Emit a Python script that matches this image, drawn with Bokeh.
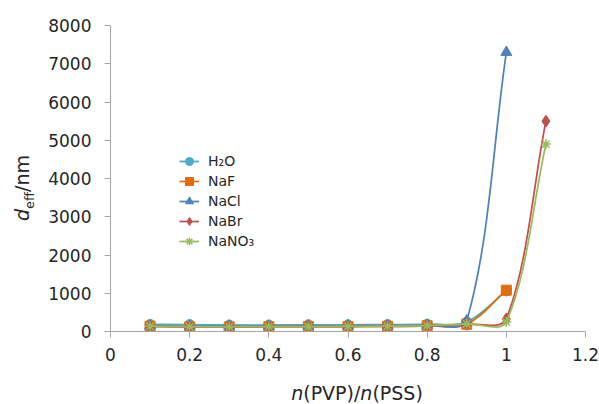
import numpy as np
from bokeh.plotting import figure
from bokeh.layouts import row, column
from bokeh.models import Range1d, FixedTicker, Legend, LegendItem, CustomJSTickFormatter, Div
from bokeh.embed import file_html
from bokeh.resources import INLINE

# ---- data ----
x_h2o = [0.1, 0.2, 0.3, 0.4, 0.5, 0.6, 0.7, 0.8, 0.9, 1.0]
y_h2o = [185, 180, 170, 170, 175, 175, 180, 190, 250, 1060]
x_naf = [0.1, 0.2, 0.3, 0.4, 0.5, 0.6, 0.7, 0.8, 0.9, 1.0]
y_naf = [140, 120, 120, 125, 130, 130, 135, 150, 190, 1080]
x_nacl = [0.1, 0.2, 0.3, 0.4, 0.5, 0.6, 0.7, 0.8, 0.9, 1.0]
y_nacl = [150, 140, 140, 140, 145, 150, 155, 165, 280, 7300]
x_nabr = [0.1, 0.2, 0.3, 0.4, 0.5, 0.6, 0.7, 0.8, 0.9, 1.0, 1.1]
y_nabr = [130, 120, 120, 125, 130, 130, 135, 150, 190, 330, 5500]
x_nano3 = [0.1, 0.2, 0.3, 0.4, 0.5, 0.6, 0.7, 0.8, 0.9, 1.0, 1.1]
y_nano3 = [140, 125, 125, 130, 130, 135, 140, 155, 200, 250, 4900]

names = ["H\u2082O", "NaF", "NaCl", "NaBr", "NaNO\u2083"]
xs_all = [x_h2o, x_naf, x_nacl, x_nabr, x_nano3]
ys_all = [y_h2o, y_naf, y_nacl, y_nabr, y_nano3]
colors = ["#4BACC6", "#E46C0A", "#4F81BD", "#C0504D", "#9BBB59"]
markers = ["circle", "square", "triangle", "diamond", "asterisk"]
msizes = [10, 10, 11, 12, 10]

x_ticks = [0, 0.2, 0.4, 0.6, 0.8, 1.0, 1.2]
y_ticks = [0, 1000, 2000, 3000, 4000, 5000, 6000, 7000, 8000]

x_title_html = "<i>n</i>(PVP)/<i>n</i>(PSS)"
y_title_html = "<i>d</i><sub style='font-size:13px'>eff</sub>/nm"

# ---- layout ----
PAGE_W, PAGE_H = 599, 404
YT_W = 40            # width of the y-title strip
XT_H = 32            # height of the x-title strip
FL, FT, FR, FBOT = 110, 25, 585, 331   # frame edges in page pixels
W, H = PAGE_W - YT_W, PAGE_H - XT_H
BL, BT, BR, BB = FL - YT_W, FT, PAGE_W - FR, H - FBOT
FW, FH = FR - FL, FBOT - FT
X0, X1, Y0, Y1 = 0, 1.2, 0, 8000
sx = FW / (X1 - X0)
sy = FH / (Y1 - Y0)

p = figure(width=W, height=H, output_backend="svg", toolbar_location=None,
           x_range=Range1d(X0, X1), y_range=Range1d(Y0, Y1),
           min_border_left=BL, min_border_right=BR, min_border_top=BT, min_border_bottom=BB,
           margin=0)
p.outline_line_color = None
p.grid.visible = False
p.background_fill_color = "white"
p.border_fill_color = "white"

FONT = "DejaVu Sans"
for ax in (p.xaxis[0], p.yaxis[0]):
    ax.axis_line_color = "#A6A6A6"
    ax.major_tick_line_color = "#A6A6A6"
    ax.minor_tick_line_color = None
    ax.major_tick_in = 0
    ax.major_tick_out = 6
    ax.major_label_text_font = FONT
    ax.major_label_text_font_size = "17px"
    ax.major_label_text_color = "#262626"
p.xaxis[0].ticker = FixedTicker(ticks=x_ticks)
p.xaxis[0].formatter = CustomJSTickFormatter(code="return String(Math.round(tick*10)/10);")
p.xaxis[0].major_label_standoff = 10
p.yaxis[0].ticker = FixedTicker(ticks=y_ticks)
p.yaxis[0].major_label_standoff = 13


def bezier_controls(xv, yv):
    P = np.column_stack([np.asarray(xv, float) * sx, np.asarray(yv, float) * sy])
    n = len(P)
    cin, cout = np.zeros_like(P), np.zeros_like(P)
    for i in range(n):
        a, b = max(i - 1, 0), min(i + 1, n - 1)
        T = P[b] - P[a]
        dp = np.linalg.norm(P[i] - P[a])
        dn = np.linalg.norm(P[b] - P[i])
        tot = dp + dn if dp + dn > 0 else 1
        cout[i] = P[i] + T * (dn / tot) / 3
        cin[i] = P[i] - T * (dp / tot) / 3
    return dict(x0=P[:-1, 0] / sx, y0=P[:-1, 1] / sy, x1=P[1:, 0] / sx, y1=P[1:, 1] / sy,
                cx0=cout[:-1, 0] / sx, cy0=cout[:-1, 1] / sy,
                cx1=cin[1:, 0] / sx, cy1=cin[1:, 1] / sy)


items = []
for name, xv, yv, c, m, s in zip(names, xs_all, ys_all, colors, markers, msizes):
    seg = bezier_controls(xv, yv)
    br = p.bezier(line_color=c, line_width=1.75, **seg)
    sr = p.scatter(xv, yv, marker=m, size=s, fill_color=c, line_color=c,
                   line_width=1.5 if m == "asterisk" else 1)
    items.append(LegendItem(label=name, renderers=[br, sr]))

leg = Legend(items=items, location=(179 - FL, FBOT - 251), orientation="vertical",
             border_line_color=None, background_fill_alpha=0,
             glyph_width=20, glyph_height=20, label_height=20, label_standoff=9,
             spacing=0, padding=0, margin=0,
             label_text_font=FONT, label_text_font_size="14px", label_text_color="#262626")
p.add_layout(leg, "center")

# ---- axis titles as HTML (italic n / d, subscript eff) ----
x_title = Div(width=PAGE_W, height=XT_H, margin=0,
              text=("<div style=\"width:%dpx; text-align:center; padding-left:%dpx; "
                    "box-sizing:border-box; margin-top:10px; font-family:'DejaVu Sans'; "
                    "font-size:19px; line-height:22px; color:#262626; white-space:nowrap\">%s</div>")
              % (PAGE_W, 2 * 357 - PAGE_W, x_title_html))
y_title = Div(width=YT_W, height=H, margin=0,
              text=("<div style=\"position:relative; width:140px; height:24px; left:%dpx; top:%dpx; "
                    "transform:rotate(-90deg); text-align:center; font-family:'DejaVu Sans'; "
                    "font-size:19px; line-height:24px; color:#262626; white-space:nowrap\">%s</div>")
              % (22 - 70, 188 - 12, y_title_html))

layout = column(row(y_title, p, spacing=0, margin=0), x_title, spacing=0, margin=0)

open("out.html", "w").write(file_html(layout, INLINE))
